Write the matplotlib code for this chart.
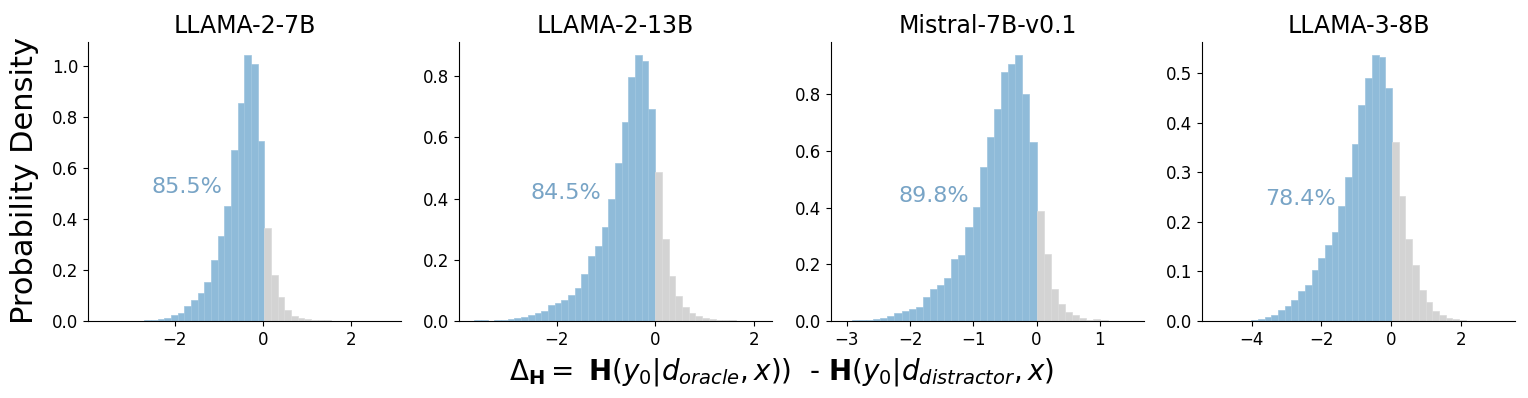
import matplotlib
matplotlib.use('Agg')
import matplotlib.pyplot as plt

# model names and share of negative delta
titles = ['LLAMA-2-7B', 'LLAMA-2-13B', 'Mistral-7B-v0.1', 'LLAMA-3-8B']
percents = ['85.5%', '84.5%', '89.8%', '78.4%']
pct_x = [-2.52, -2.52, -2.19, -3.62]
pct_y = [0.50, 0.40, 0.42, 0.235]

# histogram bins: left edge of first grey bin, bin width
split_edge = [0.037, 0.0, 0.0, 0.02]
bin_width = [0.1515, 0.136, 0.1123, 0.192]

# densities (blue = left of split, grey = right)
blue_1 = [0.002, 0.004, 0.008, 0.013, 0.024, 0.030, 0.059, 0.082, 0.108, 0.153,
          0.239, 0.333, 0.450, 0.669, 0.856, 1.043, 1.008, 0.706]
grey_1 = [0.366, 0.179, 0.095, 0.044, 0.020, 0.013, 0.008, 0.005, 0.003, 0.002]

blue_2 = [0.003, 0.002, 0.001, 0.002, 0.003, 0.007, 0.009, 0.012, 0.020, 0.025,
          0.033, 0.052, 0.060, 0.067, 0.085, 0.108, 0.153, 0.211, 0.245, 0.308,
          0.397, 0.515, 0.651, 0.797, 0.869, 0.851, 0.692]
grey_2 = [0.488, 0.267, 0.148, 0.082, 0.047, 0.025, 0.016, 0.011, 0.007, 0.004,
          0.003, 0.002]

blue_3 = [0.001, 0.002, 0.003, 0.004, 0.006, 0.011, 0.018, 0.027, 0.034, 0.042,
          0.051, 0.086, 0.114, 0.126, 0.152, 0.218, 0.232, 0.333, 0.402, 0.544,
          0.649, 0.748, 0.879, 0.907, 0.939, 0.800, 0.633]
grey_3 = [0.389, 0.236, 0.112, 0.059, 0.032, 0.021, 0.009, 0.005, 0.006, 0.002]

blue_4 = [0.001, 0.002, 0.004, 0.009, 0.013, 0.022, 0.031, 0.042, 0.061, 0.073,
          0.102, 0.127, 0.153, 0.180, 0.232, 0.291, 0.357, 0.437, 0.490, 0.537,
          0.532, 0.470]
grey_4 = [0.361, 0.252, 0.165, 0.113, 0.063, 0.038, 0.020, 0.013, 0.007, 0.004,
          0.002]

blues = [blue_1, blue_2, blue_3, blue_4]
greys = [grey_1, grey_2, grey_3, grey_4]
xlims = [(-3.97, 3.14), (-3.98, 2.37), (-3.25, 1.70), (-5.42, 3.54)]

fig = plt.figure(figsize=(15.28, 3.98), dpi=100)

lefts = [88, 459, 831, 1202]
for i in range(4):
    ax = fig.add_axes([lefts[i] / 1528, 1 - 321 / 398, 313 / 1528, 279.3 / 398])
    w = bin_width[i]
    nb = len(blues[i])
    bx = [split_edge[i] - w * (nb - k) for k in range(nb)]
    gx = [split_edge[i] + w * k for k in range(len(greys[i]))]
    ax.bar(bx, blues[i], width=w, align='edge', color='#8fbbd9',
           edgecolor='#9ec5df', linewidth=0.5)
    ax.bar(gx, greys[i], width=w, align='edge', color='#d3d3d3',
           edgecolor='#dadada', linewidth=0.5)
    ax.set_xlim(xlims[i])
    ax.set_title(titles[i], fontsize=17)
    ax.tick_params(labelsize=12)
    ax.spines['top'].set_visible(False)
    ax.spines['right'].set_visible(False)
    ax.text(pct_x[i], pct_y[i], percents[i], fontsize=16, color='#78a4c6')

fig.text(25 / 1528, 1 - 180 / 398, 'Probability Density', rotation=90,
         fontsize=22, ha='center', va='center')
fig.text(782 / 1528, 1 - 372 / 398,
         r'$\Delta_{\mathbf{H}} = $ $\mathbf{H}(y_0|d_{oracle}, x))$  - $\mathbf{H}(y_0|d_{distractor}, x)$',
         fontsize=20, ha='center', va='center')

plt.savefig('out.png', dpi=100)
